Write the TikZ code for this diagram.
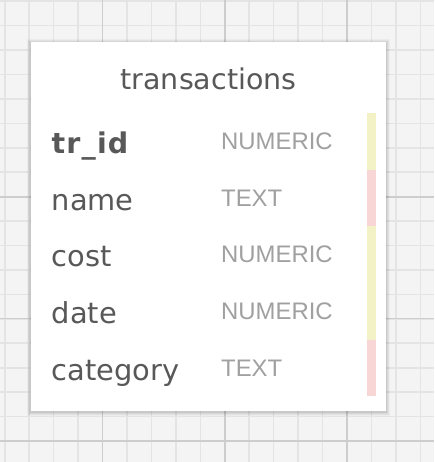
\documentclass[tikz,border=0pt]{standalone}
\usepackage{fontspec}
\setmainfont{DejaVu Sans}
\newfontfamily\typefont{Liberation Sans}
\newfontfamily\keyfont[LetterSpace=4]{DejaVu Sans Bold}
\definecolor{gridbg}{HTML}{F4F4F4}
\definecolor{gridminor}{HTML}{E4E4E4}
\definecolor{gridmajor}{HTML}{CDCDCD}
\definecolor{namegray}{HTML}{585858}
\definecolor{typegray}{HTML}{A0A0A0}
\definecolor{baryellow}{HTML}{F2F2C6}
\definecolor{barpink}{HTML}{F8D6D6}
\tikzset{
  minorline/.style={draw=gridminor, line width=1.6pt},
  majorline/.style={draw=gridmajor, line width=1.6pt},
  titletext/.style={anchor=base, inner sep=0pt, text=namegray, font=\fontsize{28.5}{30}\selectfont},
  nametext/.style={anchor=base west, inner sep=0pt, text=namegray, font=\fontsize{28.9}{30}\selectfont},
  keytext/.style={anchor=base west, inner sep=0pt, text=namegray, font=\keyfont\fontsize{28.5}{30}\selectfont},
  typetext/.style={anchor=base west, inner sep=0pt, text=typegray, font=\typefont\fontsize{23.9}{26}\selectfont},
  ybar/.style={fill=baryellow, draw=none},
  pbar/.style={fill=barpink, draw=none}
}
\begin{document}
\begin{tikzpicture}[x=1pt,y=-1pt]
\useasboundingbox (0,0) rectangle (434,462);
% background grid
\fill[gridbg] (0,0) rectangle (434,462);
\foreach \i in {0,...,17} \draw[minorline] ({4.7+24.45*\i},0) -- ({4.7+24.45*\i},462);
\foreach \j in {0,...,18} \draw[minorline] (0,{1.26+24.43*\j}) -- (434,{1.26+24.43*\j});
\foreach \i in {4,9,14} \draw[majorline] ({4.7+24.45*\i},0) -- ({4.7+24.45*\i},462);
\foreach \y in {196.7,318.3,441} \draw[majorline] (0,\y) -- (434,\y);
% card shadow
\foreach \d/\o in {4/0.03,3/0.04,2/0.05,1/0.06}
  \fill[black, opacity=\o] ({31-\d},{42-\d+1}) rectangle ({386+\d},{410.7+\d+1});
% card
\node[draw=none, fill=white, minimum width=355pt, minimum height=368.7pt, inner sep=0pt, anchor=north west] (card) at (31,42) {};
% title
\node[titletext] (title) at (208.5,89.3) {transactions};
% rows
\node[keytext]  (n1) at (51.5,153.3) {tr\_id};
\node[nametext] (n2) at (51.5,210)   {name};
\node[nametext] (n3) at (51.5,266.7) {cost};
\node[nametext] (n4) at (51.5,323.3) {date};
\node[nametext] (n5) at (51.5,380)   {category};
\node[typetext] (t1) at (221,149.3) {NUMERIC};
\node[typetext] (t2) at (221,206)   {TEXT};
\node[typetext] (t3) at (221,262.7) {NUMERIC};
\node[typetext] (t4) at (221,319.3) {NUMERIC};
\node[typetext] (t5) at (221,376)   {TEXT};
% side bars
\fill[ybar] (367,113) rectangle (376,170);
\fill[pbar] (367,170) rectangle (376,226);
\fill[ybar] (367,226) rectangle (376,340);
\fill[pbar] (367,340) rectangle (376,396);
\end{tikzpicture}
\end{document}
